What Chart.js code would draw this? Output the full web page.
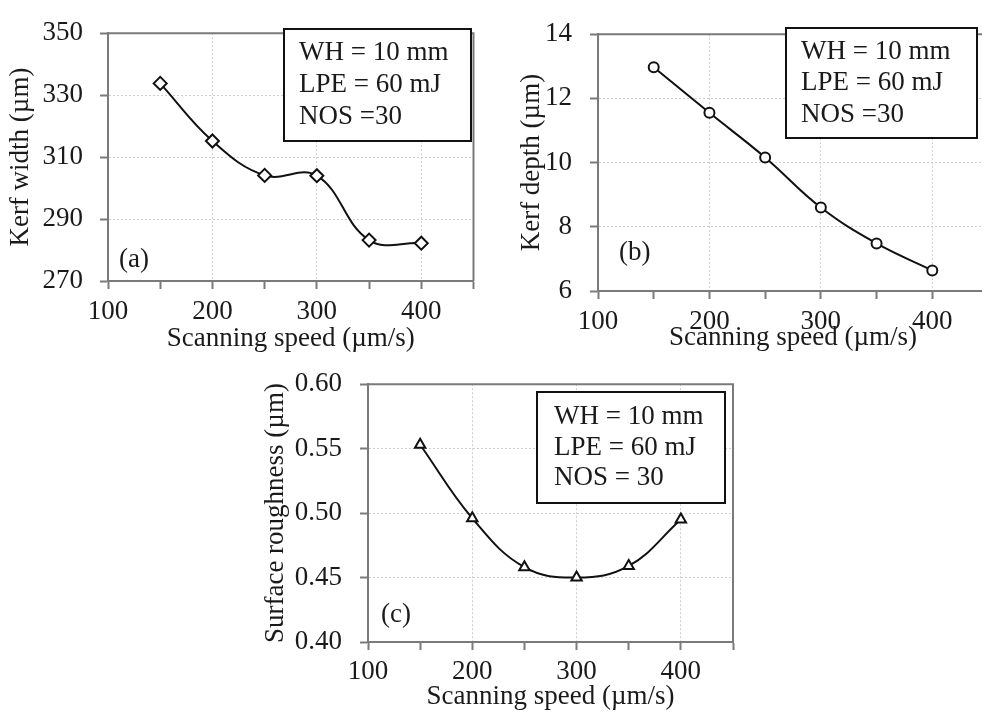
<!DOCTYPE html>
<html>
<head>
<meta charset="utf-8">
<script src="https://cdn.jsdelivr.net/npm/chart.js@4"></script>
<style>
  html, body { margin: 0; padding: 0; background: #fff; overflow: hidden; width: 982px; height: 713px; }
  canvas { position: absolute; }
</style>
</head>
<body>
<canvas id="chartA" width="482" height="360" style="left:0px;top:0px"></canvas>
<canvas id="chartB" width="540" height="360" style="left:480px;top:0px"></canvas>
<canvas id="chartC" width="520" height="363" style="left:230px;top:350px"></canvas>
<script>
// data
var speeds = [150, 200, 250, 300, 350, 400];
var kerfWidth = [333.8, 315.2, 304.1, 304.0, 283.2, 282.2];
var kerfDepth = [12.97, 11.55, 10.16, 8.60, 7.48, 6.64];
var roughness = [0.553, 0.496, 0.458, 0.450, 0.459, 0.495];

var xTickLabels = [100, 200, 300, 400];
var xGridLines = [200, 300, 400];

var notesAB = ['WH = 10 mm', 'LPE = 60 mJ', 'NOS =30'];
var notesC = ['WH = 10 mm', 'LPE = 60 mJ', 'NOS = 30'];

Chart.defaults.font.family = "'Liberation Serif', 'Times New Roman', serif";
Chart.defaults.font.size = 27;
Chart.defaults.color = '#1a1a1a';

var axisGray = '#7a7a7a';
var gridGray = '#cfcfcf';

// frame on top/right, the text box and the panel letter
var decorPlugin = {
    id: 'decor',
    afterDraw: function(chart, args, opts) {
        var ctx = chart.ctx;
        var a = chart.chartArea;
        ctx.save();
        ctx.strokeStyle = axisGray;
        ctx.lineWidth = 2;
        ctx.beginPath();
        ctx.moveTo(a.left, a.top);
        ctx.lineTo(a.right, a.top);
        ctx.lineTo(a.right, a.bottom);
        ctx.stroke();

        var b = opts.box;
        ctx.fillStyle = '#fff';
        ctx.fillRect(b.x, b.y, b.w, b.h);
        ctx.strokeStyle = '#111';
        ctx.lineWidth = 2;
        ctx.strokeRect(b.x, b.y, b.w, b.h);

        ctx.fillStyle = '#1a1a1a';
        ctx.font = '27px "Liberation Serif", serif';
        ctx.textBaseline = 'middle';
        ctx.textAlign = 'left';
        for (var i = 0; i < opts.lines.length; i++) {
            ctx.fillText(opts.lines[i], b.textX, b.lineY[i]);
        }
        ctx.fillText(opts.panel, opts.panelX, opts.panelY);
        ctx.restore();
    }
};

function makeChart(id, values, cfg) {
    var points = [];
    for (let i = 0; i < speeds.length; i++) {
        points.push({x: speeds[i], y: values[i]});
    }
    return new Chart(document.getElementById(id), {
        type: 'line',
        data: {
            datasets: [{
                data: points,
                borderColor: '#111',
                borderWidth: 2,
                tension: 0.4,
                fill: false,
                pointStyle: cfg.pointStyle,
                pointRadius: cfg.pointRadius,
                pointBackgroundColor: '#fff',
                pointBorderColor: '#111',
                pointBorderWidth: 2
            }]
        },
        options: {
            responsive: false,
            animation: false,
            events: [],
            layout: {padding: cfg.padding},
            plugins: {
                legend: {display: false},
                tooltip: {enabled: false},
                decor: cfg.decor
            },
            scales: {
                x: {
                    type: 'linear',
                    min: 100,
                    max: 450,
                    afterFit: function(scale) { scale.height = cfg.xHeight; },
                    ticks: {
                        stepSize: 50,
                        autoSkip: false,
                        maxRotation: 0,
                        includeBounds: false,
                        padding: cfg.xTickPad,
                        callback: function(v) { return xTickLabels.indexOf(v) >= 0 ? String(v) : ''; }
                    },
                    grid: {
                        tickLength: 8,
                        tickColor: axisGray,
                        tickWidth: 2,
                        color: function(c) {
                            return c.tick && xGridLines.indexOf(c.tick.value) >= 0 ? gridGray : 'rgba(0,0,0,0)';
                        }
                    },
                    border: {color: axisGray, width: 2, dash: [2, 2]},
                    title: {
                        display: true,
                        text: 'Scanning speed (µm/s)',
                        padding: {top: 0, bottom: cfg.xTitlePad}
                    }
                },
                y: {
                    min: cfg.yMin,
                    max: cfg.yMax,
                    afterFit: function(scale) { scale.width = cfg.yWidth; },
                    ticks: {
                        stepSize: cfg.yStep,
                        autoSkip: false,
                        padding: cfg.yTickPad,
                        callback: cfg.yFormat
                    },
                    grid: {
                        tickLength: 8,
                        tickColor: axisGray,
                        tickWidth: 2,
                        color: function(c) {
                            if (!c.tick) return 'rgba(0,0,0,0)';
                            var v = c.tick.value;
                            return (Math.abs(v - cfg.yMin) < 1e-9 || Math.abs(v - cfg.yMax) < 1e-9) ? 'rgba(0,0,0,0)' : gridGray;
                        }
                    },
                    border: {color: axisGray, width: 2, dash: [2, 2]},
                    title: {
                        display: true,
                        text: cfg.yTitle,
                        padding: {top: cfg.yTitlePad, bottom: 0}
                    }
                }
            }
        },
        plugins: [decorPlugin]
    });
}

makeChart('chartA', kerfWidth, {
    pointStyle: 'rectRot', pointRadius: 6.5,
    padding: {top: 24, right: 7, left: 0, bottom: 0},
    xHeight: 79, yWidth: 108,
    xTickPad: 7, yTickPad: 17, xTitlePad: 5, yTitlePad: 5,
    yMin: 270, yMax: 350, yStep: 20,
    yFormat: function(v) { return String(v); },
    yTitle: 'Kerf width (µm)',
    decor: {
        box: {x: 284, y: 29, w: 187, h: 112, textX: 299, lineY: [53, 85, 117]},
        lines: notesAB, panel: '(a)', panelX: 119, panelY: 260
    }
});

makeChart('chartB', kerfDepth, {
    pointStyle: 'circle', pointRadius: 5,
    padding: {top: 24, right: 32, left: 0, bottom: 0},
    xHeight: 69, yWidth: 118,
    xTickPad: 7, yTickPad: 18, xTitlePad: 6, yTitlePad: 36,
    yMin: 6, yMax: 14, yStep: 2,
    yFormat: function(v) { return String(v); },
    yTitle: 'Kerf depth (µm)',
    decor: {
        box: {x: 306, y: 28, w: 191, h: 110, textX: 321, lineY: [52, 83, 115]},
        lines: notesAB, panel: '(b)', panelX: 139, panelY: 253
    }
});

makeChart('chartC', roughness, {
    pointStyle: 'triangle', pointRadius: 6,
    padding: {top: 34, right: 17, left: 0, bottom: 0},
    xHeight: 71, yWidth: 138,
    xTickPad: 6, yTickPad: 18, xTitlePad: 0, yTitlePad: 30,
    yMin: 0.40, yMax: 0.60, yStep: 0.05,
    yFormat: function(v) { return v.toFixed(2); },
    yTitle: 'Surface roughness (µm)',
    decor: {
        box: {x: 307, y: 42, w: 188, h: 111, textX: 324, lineY: [67, 98, 128]},
        lines: notesC, panel: '(c)', panelX: 151, panelY: 265
    }
});
</script>
</body>
</html>
